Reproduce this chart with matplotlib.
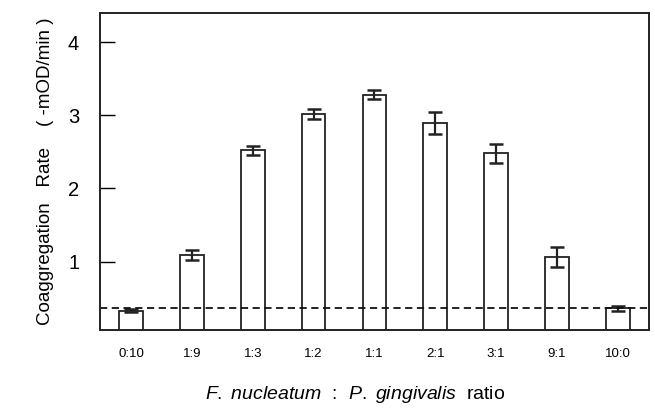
import numpy as np
import matplotlib.pyplot as plt

plt.rcParams['font.family'] = ['Liberation Sans', 'DejaVu Sans']
plt.rcParams['mathtext.fontset'] = 'custom'
plt.rcParams['mathtext.it'] = 'Liberation Sans:italic'
plt.rcParams['mathtext.rm'] = 'Liberation Sans'

ratios = ['0:10', '1:9', '1:3', '1:2', '1:1', '2:1', '3:1', '9:1', '10:0']
rates = [0.33, 1.09, 2.52, 3.02, 3.28, 2.89, 2.48, 1.06, 0.36]
errors = [0.02, 0.07, 0.06, 0.065, 0.06, 0.15, 0.13, 0.14, 0.03]
baseline = 0.365

fig = plt.figure(figsize=(6.55, 4.18), dpi=100)
ax = fig.add_axes([0.1527, 0.2105, 0.838, 0.759])

x = np.arange(len(ratios))
ax.bar(x, rates, width=0.39, color='white', edgecolor='#222222', linewidth=1.3,
       yerr=errors, error_kw=dict(ecolor='#222222', elinewidth=1.6, capsize=5, capthick=1.8))
ax.axhline(baseline, color='#111111', linestyle=(0, (4, 2.5)), linewidth=1.3)

ax.set_xlim(-0.51, 8.51)
ax.set_ylim(0.066, 4.40)
ax.set_xticks(x)
ax.set_xticklabels(ratios, fontsize=9.5)
ax.tick_params(axis='x', length=0, pad=13)
ax.set_yticks([1, 2, 3, 4])
ax.tick_params(axis='y', direction='in', length=11, width=1, labelsize=14.5, pad=15)
for s in ax.spines.values():
    s.set_linewidth(1.4)
    s.set_color('#222222')

ax.set_ylabel('Coaggregation   Rate    ( -mOD/min )', fontsize=13.5, labelpad=10)
fig.text(0.542, 0.045, r'$F.\ nucleatum$  :  $P.\ gingivalis$  ratio',
         ha='center', fontsize=14)

plt.savefig('out.png', dpi=100)
